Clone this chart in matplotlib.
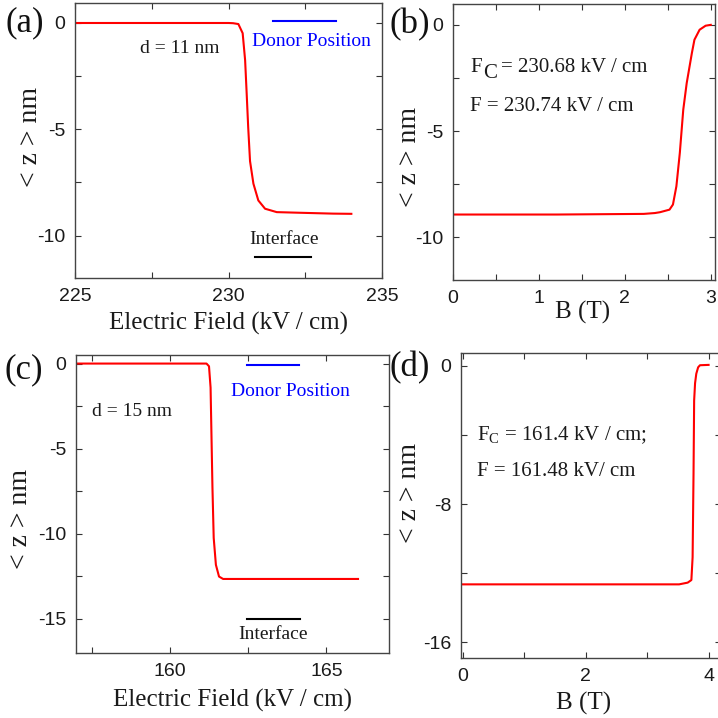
import matplotlib
matplotlib.use("Agg")
import matplotlib.pyplot as plt
from matplotlib.ticker import MultipleLocator
import matplotlib.transforms as mtransforms

# (a) d = 11 nm, <z> vs electric field
field_a = [225.0, 230.0, 230.15, 230.32, 230.46, 230.54, 230.59, 230.64, 230.70,
           230.81, 230.97, 231.19, 231.57, 232.33, 233.4, 234.0]
z_a = [0.0, 0.0, -0.01, -0.05, -0.48, -1.75, -3.3, -4.9, -6.5,
       -7.56, -8.35, -8.74, -8.9, -8.93, -8.97, -8.98]

# (b) <z> vs magnetic field, F = 230.74 kV/cm
b_b = [0.0, 1.21, 2.22, 2.35, 2.41, 2.52, 2.56, 2.60, 2.64, 2.68, 2.72, 2.78, 2.81, 2.87, 2.94, 3.0]
z_b = [-8.92, -8.92, -8.89, -8.85, -8.81, -8.69, -8.45, -7.59, -6.02, -3.99, -2.74, -1.33, -0.70, -0.23, -0.04, 0.0]

# (c) d = 15 nm
field_c = [157.0, 161.17, 161.25, 161.30, 161.33, 161.36, 161.40, 161.47, 161.57, 161.70, 166.01]
z_c = [0.0, 0.0, -0.16, -1.41, -4.35, -7.29, -10.24, -11.82, -12.51, -12.65, -12.65]

# (d) <z> vs magnetic field, F = 161.48 kV/cm
b_d = [0.0, 3.52, 3.66, 3.72, 3.74, 3.755, 3.765, 3.78, 3.80, 3.83, 3.86, 4.0]
z_d = [-12.64, -12.64, -12.54, -12.39, -11.07, -6.24, -2.0, -1.0, -0.45, -0.08, 0.04, 0.06]

serif = "Liberation Serif"
sans = "Liberation Sans"
plt.rcParams['font.family'] = sans
plt.rcParams['axes.unicode_minus'] = False
plt.rcParams['mathtext.fontset'] = 'custom'
plt.rcParams['mathtext.rm'] = serif
plt.rcParams['mathtext.it'] = serif + ':italic'

fig = plt.figure(figsize=(7.18, 7.18), dpi=100)

ax_a = fig.add_axes([0.1045, 0.6128, 0.4276, 0.383])
ax_b = fig.add_axes([0.6309, 0.61, 0.365, 0.3844])
ax_c = fig.add_axes([0.1058, 0.0905, 0.436, 0.415])
ax_d = fig.add_axes([0.642, 0.0836, 0.362, 0.4248])

txt = '#1a1a1a'


def style(ax, xmaj, xmin, ymaj, ymin, ylab_x, ylab_y):
    ax.xaxis.set_major_locator(MultipleLocator(xmaj))
    ax.xaxis.set_minor_locator(MultipleLocator(xmin))
    ax.yaxis.set_major_locator(MultipleLocator(ymaj))
    ax.yaxis.set_minor_locator(MultipleLocator(ymin))
    ax.tick_params(which='both', direction='in', top=True, right=True,
                   length=4, width=0.8, color='#333333', labelsize=14, pad=7,
                   labelcolor=txt)
    for s in ax.spines.values():
        s.set_color('#444444')
        s.set_linewidth(1.0)
    ax.set_ylabel('< z > nm', fontfamily=serif, fontsize=20, color=txt)
    ax.yaxis.set_label_coords(ylab_x, ylab_y)


red = '#ff0000'

# (a)
ax_a.plot(field_a, z_a, color=red, lw=1.5)
ax_a.set_xlim(225, 235)
ax_a.set_ylim(-12, 0.94)
style(ax_a, 5, 2.5, 5, 2.5, -0.104, 0.513)
ax_a.plot([231.45, 233.5], [0.08, 0.08], color='#0000ff', lw=1.5)
ax_a.plot([230.86, 232.7], [-11.02, -11.02], color='black', lw=1.5)
ax_a.text(232.7, -0.85, 'Donor Position', color='#0000ff', fontfamily=serif,
          fontsize=14, ha='center', va='center')
ax_a.text(231.8, -10.19, 'Interface', color=txt, fontfamily=serif,
          fontsize=14, ha='center', va='center')
ax_a.text(228.4, -1.2, 'd = 11 nm', color=txt, fontfamily=serif,
          fontsize=14, ha='center', va='center')
ax_a.set_xlabel('Electric Field (kV / cm)', fontfamily=serif, fontsize=18, color=txt)
ax_a.xaxis.set_label_coords(0.5, -0.124)

# (b)
ax_b.plot(b_b, z_b, color=red, lw=1.5)
ax_b.set_xlim(0, 3.05)
ax_b.set_ylim(-12, 0.98)
style(ax_b, 1, 0.5, 5, 2.5, -0.118, 0.446)
ax_b.text(0.2, -2.0, 'F', fontfamily=serif, fontsize=15, va='center', color=txt)
off = mtransforms.offset_copy(ax_b.transData, fig=fig, x=13, y=-6, units='dots')
ax_b.text(0.2, -2.0, 'C', fontfamily=serif, fontsize=15, va='center', color=txt, transform=off)
off2 = mtransforms.offset_copy(ax_b.transData, fig=fig, x=31, y=0, units='dots')
ax_b.text(0.2, -2.0, '= 230.68 kV / cm', fontfamily=serif, fontsize=15, va='center',
          color=txt, transform=off2)
ax_b.text(0.2, -3.85, 'F = 230.74 kV / cm', fontfamily=serif, fontsize=15, va='center',
          color=txt)
ax_b.set_xlabel('B (T)', fontfamily=serif, fontsize=18, color=txt)
ax_b.xaxis.set_label_coords(0.496, -0.076)

# (c)
ax_c.plot(field_c, z_c, color=red, lw=1.5)
ax_c.set_xlim(157, 167)
ax_c.set_ylim(-17, 0.5)
style(ax_c, 5, 2.5, 5, 2.5, -0.137, 0.45)
ax_c.plot([162.47, 164.12], [-0.1, -0.1], color='#0000ff', lw=1.5)
ax_c.plot([162.45, 164.15], [-15.0, -15.0], color='black', lw=1.5)
ax_c.text(163.85, -1.62, 'Donor Position', color='#0000ff', fontfamily=serif,
          fontsize=14, ha='center', va='center')
ax_c.text(163.3, -15.9, 'Interface', color=txt, fontfamily=serif,
          fontsize=14, ha='center', va='center')
ax_c.text(158.8, -2.8, 'd = 15 nm', color=txt, fontfamily=serif,
          fontsize=14, ha='center', va='center')
ax_c.set_xlabel('Electric Field (kV / cm)', fontfamily=serif, fontsize=18, color=txt)
ax_c.xaxis.set_label_coords(0.5, -0.121)

# (d)
ax_d.plot(b_d, z_d, color=red, lw=1.5)
ax_d.set_xlim(-0.03, 4.2)
ax_d.set_ylim(-16.9, 0.75)
style(ax_d, 2, 1, 8, 4, -0.15, 0.54)
ax_d.text(0.23, -4.0, r'F$_{\mathrm{C}}$ = 161.4 kV / cm;', fontfamily=serif, fontsize=15,
          va='center', color=txt)
ax_d.text(0.23, -6.1, 'F = 161.48 kV/ cm', fontfamily=serif, fontsize=15,
          va='center', color=txt)
ax_d.set_xlabel('B (T)', fontfamily=serif, fontsize=18, color=txt)
ax_d.xaxis.set_label_coords(0.47, -0.111)

# panel letters
for lbl, x, y in [('(a)', 0.007, 0.968), ('(b)', 0.542, 0.966), ('(c)', 0.006, 0.485), ('(d)', 0.542, 0.488)]:
    fig.text(x, y, lbl, fontfamily=serif, fontsize=25, va='center', ha='left', color='#111111')

fig.savefig('out.png', dpi=100)
